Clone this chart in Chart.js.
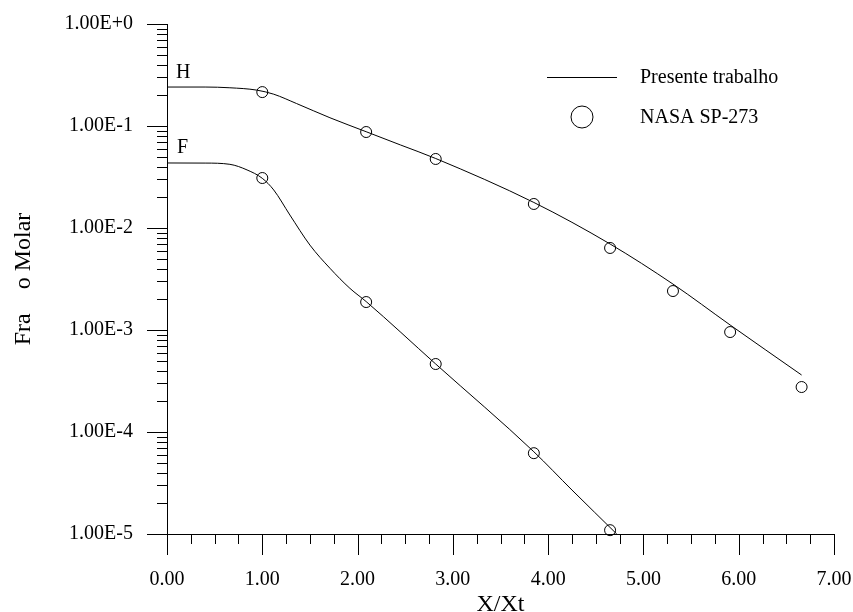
<!DOCTYPE html>
<html>
<head>
<meta charset="utf-8">
<title>Fração molar - H e F</title>
<script src="https://cdn.jsdelivr.net/npm/chart.js@4.4.1/dist/chart.umd.min.js"></script>
<style>
    html, body { margin: 0; padding: 0; background: #fff; }
    #wrap { position: relative; width: 853px; height: 612px; }
</style>
</head>
<body>
<div id="wrap"><canvas id="molarChart"></canvas></div>
<script>

// ======================================================
// Dados
// ======================================================

// Presente trabalho - especie H
const hLineX = [0, 0.4, 0.66, 0.94, 1.12, 1.36, 1.71, 2.09, 2.45, 2.82, 3.85, 4.65, 5.31, 5.91, 6.66];
const hLineY = [0.241, 0.241, 0.237, 0.225, 0.205, 0.166, 0.1205, 0.0879, 0.0652, 0.048, 0.0178, 0.00697, 0.00282, 0.00112, 0.000362];

// Presente trabalho - especie F
const fLineX = [0, 0.4, 0.66, 0.84, 1.0, 1.12, 1.29, 1.5, 1.71, 1.92, 2.09, 2.82, 3.85, 4.25, 4.72];
const fLineY = [0.0434, 0.0433, 0.0421, 0.0371, 0.0307, 0.0236, 0.0134, 0.0068, 0.00403, 0.00256, 0.0019, 0.000464, 0.000064, 0.000027, 0.00001];

// NASA SP-273
const hNasaX = [1.0, 2.09, 2.82, 3.85, 4.65, 5.31, 5.91, 6.66];
const hNasaY = [0.215, 0.0873, 0.0475, 0.0172, 0.00637, 0.00241, 0.000955, 0.000276];

const fNasaX = [1.0, 2.09, 2.82, 3.85, 4.65];
const fNasaY = [0.0309, 0.00188, 0.000464, 0.000062, 0.0000109];

// Eixos
const xTickLabels = ["0.00", "1.00", "2.00", "3.00", "4.00", "5.00", "6.00", "7.00"];
const yMajorTicks = [1e-5, 1e-4, 1e-3, 1e-2, 1e-1, 1];
const yTickLabels = ["1.00E-5", "1.00E-4", "1.00E-3", "1.00E-2", "1.00E-1", "1.00E+0"];
const yMinorMantissas = [2, 3, 4, 5, 6, 7, 8, 9];

const seriesNames = ["Presente trabalho", "NASA SP-273"];
const curveNames = ["H", "F"];

const FONT = "'Liberation Serif', 'Times New Roman', serif";

function toPoints(xs, ys) {
    return xs.map((x, i) => ({ x: x, y: ys[i] }));
}

function isWhole(v) {
    return Math.abs(v - Math.round(v)) < 1e-6;
}

// ======================================================
// Marcas dos eixos (maiores e menores)
// ======================================================

const tickMarks = {
    id: "tickMarks",
    afterDraw(chart) {
        const ctx = chart.ctx;
        const area = chart.chartArea;
        const xs = chart.scales.x;
        const ys = chart.scales.y;

        ctx.save();
        ctx.strokeStyle = "#000";
        ctx.lineWidth = 1;
        ctx.beginPath();

        xs.ticks.forEach(t => {
            const px = Math.round(xs.getPixelForValue(t.value)) + 0.5;
            const len = isWhole(t.value) ? 21 : 10;
            ctx.moveTo(px, area.bottom);
            ctx.lineTo(px, area.bottom + len);
        });

        ys.ticks.forEach(t => {
            const py = Math.round(ys.getPixelForValue(t.value)) + 0.5;
            const len = t.major ? 20 : 10;
            ctx.moveTo(area.left - len, py);
            ctx.lineTo(area.left, py);
        });

        ctx.stroke();
        ctx.restore();
    }
};

// ======================================================
// Nomes das curvas + legenda
// ======================================================

const annotations = {
    id: "annotations",
    afterDraw(chart) {
        const ctx = chart.ctx;
        const area = chart.chartArea;
        const ys = chart.scales.y;

        ctx.save();
        ctx.fillStyle = "#000";
        ctx.strokeStyle = "#000";
        ctx.lineWidth = 1;
        ctx.font = "20px " + FONT;
        ctx.textAlign = "left";
        ctx.textBaseline = "alphabetic";

        // H e F junto do inicio de cada curva
        ctx.fillText(curveNames[0], area.left + 9, ys.getPixelForValue(hLineY[0]) - 9);
        ctx.fillText(curveNames[1], area.left + 10, ys.getPixelForValue(fLineY[0]) - 10);

        // legenda
        const lx = area.right - 287;
        const ly = area.top + 53;

        ctx.beginPath();
        ctx.moveTo(lx, ly + 0.5);
        ctx.lineTo(lx + 70, ly + 0.5);
        ctx.stroke();
        ctx.fillText(seriesNames[0], lx + 93, ly + 6);

        ctx.beginPath();
        ctx.arc(lx + 35, ly + 40, 11, 0, 2 * Math.PI);
        ctx.stroke();
        ctx.fillText(seriesNames[1], lx + 93, ly + 46);

        ctx.restore();
    }
};

// ======================================================
// Grafico
// ======================================================

const lineStyle = {
    type: "line",
    borderColor: "#000",
    borderWidth: 1,
    pointRadius: 0,
    fill: false,
    cubicInterpolationMode: "monotone"
};

const circleStyle = {
    type: "line",
    showLine: false,
    borderColor: "#000",
    backgroundColor: "rgba(0,0,0,0)",
    borderWidth: 1,
    pointStyle: "circle",
    pointRadius: 5.5,
    clip: false
};

new Chart(document.getElementById("molarChart"), {

    data: {
        datasets: [
            Object.assign({ label: seriesNames[0], data: toPoints(hLineX, hLineY) }, lineStyle),
            Object.assign({ label: seriesNames[0], data: toPoints(fLineX, fLineY) }, lineStyle),
            Object.assign({ label: seriesNames[1], data: toPoints(hNasaX, hNasaY) }, circleStyle),
            Object.assign({ label: seriesNames[1], data: toPoints(fNasaX, fNasaY) }, circleStyle)
        ]
    },

    options: {
        responsive: true,
        maintainAspectRatio: false,
        animation: false,
        devicePixelRatio: 1,
        layout: {
            padding: { top: 24, right: 19, bottom: 0, left: 0 }
        },
        plugins: {
            legend: { display: false },
            tooltip: { enabled: false }
        },
        scales: {
            x: {
                type: "linear",
                min: 0,
                max: 7,
                grid: { display: false, drawTicks: false },
                border: { display: true, color: "#000", width: 1 },
                ticks: {
                    stepSize: 0.25,
                    autoSkip: false,
                    maxRotation: 0,
                    minRotation: 0,
                    padding: 34,
                    color: "#000",
                    font: { family: FONT, size: 20 },
                    callback: v => isWhole(v) ? xTickLabels[Math.round(v)] : ""
                },
                title: {
                    display: true,
                    text: "X/Xt",
                    color: "#000",
                    font: { family: FONT, size: 24, lineHeight: 0.6 },
                    padding: { top: 0, bottom: 0 }
                },
                afterFit(scale) {
                    scale.height = 78;
                    scale.paddingLeft = 0;
                    scale.paddingRight = 0;
                }
            },
            y: {
                type: "logarithmic",
                min: yMajorTicks[0],
                max: yMajorTicks[yMajorTicks.length - 1],
                grid: { display: false, drawTicks: false },
                border: { display: true, color: "#000", width: 1 },
                afterBuildTicks(scale) {
                    const ticks = [];
                    yMajorTicks.forEach((m, i) => {
                        ticks.push({ value: m, major: true });
                        if (i < yMajorTicks.length - 1)
                            yMinorMantissas.forEach(k => ticks.push({ value: m * k, major: false }));
                    });
                    scale.ticks = ticks;
                },
                ticks: {
                    autoSkip: false,
                    padding: 34,
                    color: "#000",
                    font: { family: FONT, size: 20 },
                    callback: function (v) {
                        const i = yMajorTicks.findIndex(m => Math.abs(m - v) / m < 1e-6);
                        return i >= 0 ? yTickLabels[i] : "";
                    }
                },
                title: {
                    display: true,
                    text: "Fra    o Molar",
                    color: "#000",
                    font: { family: FONT, size: 24 },
                    padding: { top: 9, bottom: 0 }
                },
                afterFit(scale) {
                    scale.width = 167;
                    scale.paddingTop = 0;
                    scale.paddingBottom = 0;
                }
            }
        }
    },

    plugins: [tickMarks, annotations]

});

</script>
</body>
</html>
